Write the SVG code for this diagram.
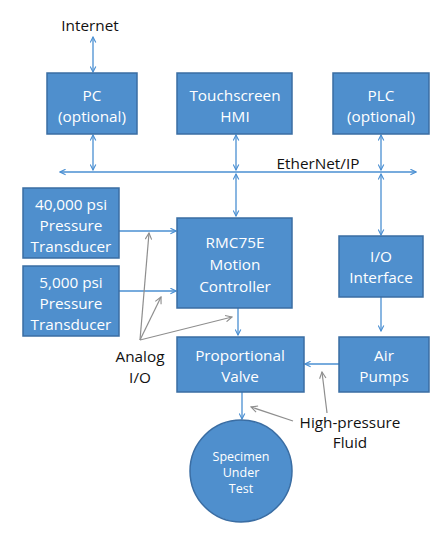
<svg xmlns="http://www.w3.org/2000/svg" width="448" height="538" viewBox="0 0 448 538">
<style>
.box{fill:#4f8fcd;stroke:#3a6da3;stroke-width:1.5}
.wt{fill:#fff;font-family:"Open Sans","Liberation Sans",sans-serif;font-size:15.3px;text-anchor:middle}
.bt{fill:#111;font-family:"Open Sans","Liberation Sans",sans-serif;font-size:15.3px;text-anchor:middle}
.st{fill:#fff;font-family:"Open Sans","Liberation Sans",sans-serif;font-size:12.5px;text-anchor:middle}
.bl{stroke:#4a8fd2;stroke-width:1.3;fill:none}
.gr{stroke:#8e8e8e;stroke-width:1.2;fill:none}
</style>
<defs>
<marker id="ab" viewBox="0 0 10 10" refX="9" refY="5" markerWidth="7" markerHeight="7" markerUnits="userSpaceOnUse" orient="auto-start-reverse">
<path d="M1,1 L9,5 L1,9" fill="none" stroke="#4a8fd2" stroke-width="1.6"/>
</marker>
<marker id="ag" viewBox="0 0 10 10" refX="9" refY="5" markerWidth="8" markerHeight="8" markerUnits="userSpaceOnUse" orient="auto">
<path d="M1,1 L9,5 L1,9" fill="none" stroke="#8e8e8e" stroke-width="1.4"/>
</marker>
</defs>
<g id="connectors">
<line class="bl" x1="93" y1="37" x2="93" y2="72" marker-start="url(#ab)" marker-end="url(#ab)"/>
<line class="bl" x1="60" y1="172" x2="416" y2="172" marker-start="url(#ab)" marker-end="url(#ab)"/>
<line class="bl" x1="93" y1="135" x2="93" y2="170" marker-start="url(#ab)" marker-end="url(#ab)"/>
<line class="bl" x1="236" y1="135" x2="236" y2="170" marker-start="url(#ab)" marker-end="url(#ab)"/>
<line class="bl" x1="381" y1="135" x2="381" y2="170" marker-start="url(#ab)" marker-end="url(#ab)"/>
<line class="bl" x1="236" y1="174" x2="236" y2="216" marker-start="url(#ab)" marker-end="url(#ab)"/>
<line class="bl" x1="381" y1="174" x2="381" y2="235" marker-start="url(#ab)" marker-end="url(#ab)"/>
<line class="bl" x1="119" y1="231" x2="176" y2="231" marker-end="url(#ab)"/>
<line class="bl" x1="119" y1="291" x2="176" y2="291" marker-end="url(#ab)"/>
<line class="bl" x1="238" y1="308" x2="238" y2="335" marker-end="url(#ab)"/>
<line class="bl" x1="381" y1="297" x2="381" y2="331" marker-end="url(#ab)"/>
<line class="bl" x1="339" y1="364" x2="305" y2="364" marker-end="url(#ab)"/>
<line class="bl" x1="242" y1="392" x2="242" y2="419" marker-end="url(#ab)"/>
<line class="gr" x1="140" y1="340" x2="149" y2="233" marker-end="url(#ag)"/>
<line class="gr" x1="140" y1="340" x2="161" y2="297" marker-end="url(#ag)"/>
<line class="gr" x1="140" y1="340" x2="232" y2="317" marker-end="url(#ag)"/>
<line class="gr" x1="327" y1="413" x2="322" y2="372" marker-end="url(#ag)"/>
<line class="gr" x1="293" y1="421" x2="251" y2="407" marker-end="url(#ag)"/>
</g>
<g id="internet"><text class="bt" x="90" y="31">Internet</text></g>
<g id="ethernet"><text class="bt" x="318" y="169">EtherNet/IP</text></g>
<g id="pc"><rect class="box" x="47" y="73" width="90" height="61"/><text class="wt" x="92" y="101">PC</text><text class="wt" x="92" y="122">(optional)</text></g>
<g id="hmi"><rect class="box" x="177" y="73" width="115" height="61"/><text class="wt" x="235" y="101">Touchscreen</text><text class="wt" x="235" y="122">HMI</text></g>
<g id="plc"><rect class="box" x="333" y="73" width="96" height="61"/><text class="wt" x="381" y="101">PLC</text><text class="wt" x="381" y="122">(optional)</text></g>
<g id="t40k"><rect class="box" x="23" y="188" width="96" height="70"/><text class="wt" x="71" y="210">40,000 psi</text><text class="wt" x="71" y="231">Pressure</text><text class="wt" x="71" y="252">Transducer</text></g>
<g id="t5k"><rect class="box" x="23" y="266" width="96" height="70"/><text class="wt" x="71" y="288">5,000 psi</text><text class="wt" x="71" y="309">Pressure</text><text class="wt" x="71" y="330">Transducer</text></g>
<g id="rmc"><rect class="box" x="177" y="218" width="115" height="90"/><text class="wt" x="235" y="248">RMC75E</text><text class="wt" x="235" y="270">Motion</text><text class="wt" x="235" y="292">Controller</text></g>
<g id="io"><rect class="box" x="339" y="236" width="84" height="61"/><text class="wt" x="381" y="262">I/O</text><text class="wt" x="381" y="283">Interface</text></g>
<g id="valve"><rect class="box" x="177" y="337" width="127" height="55"/><text class="wt" x="240" y="361">Proportional</text><text class="wt" x="240" y="382">Valve</text></g>
<g id="pumps"><rect class="box" x="339" y="337" width="90" height="55"/><text class="wt" x="384" y="361">Air</text><text class="wt" x="384" y="382">Pumps</text></g>
<g id="analog"><text class="bt" x="140" y="362">Analog</text><text class="bt" x="140" y="383">I/O</text></g>
<g id="fluid"><text class="bt" x="350" y="428">High-pressure</text><text class="bt" x="350" y="448">Fluid</text></g>
<g id="specimen"><circle class="box" cx="241" cy="471" r="51"/><text class="st" x="241" y="461">Specimen</text><text class="st" x="241" y="477">Under</text><text class="st" x="241" y="493">Test</text></g>
</svg>
